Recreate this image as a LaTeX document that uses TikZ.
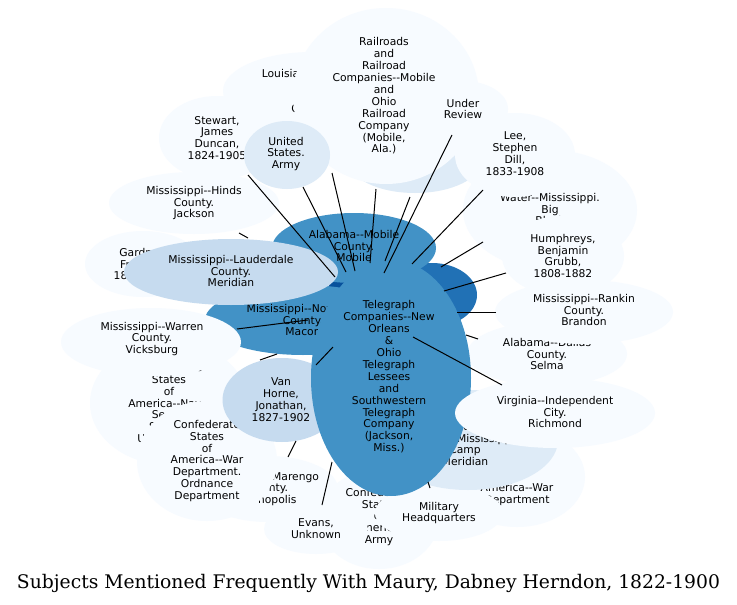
\documentclass[tikz,border=0pt]{standalone}
\usepackage{graphicx}
\usepackage{fontspec}
\setmainfont{DejaVu Sans}[Ligatures=TeXOff]
\newfontfamily\titlefont{DejaVu Serif}
\usetikzlibrary{shapes.geometric}
\definecolor{bA}{HTML}{F7FBFF}
\definecolor{bB}{HTML}{DEEBF7}
\definecolor{bC}{HTML}{C6DBEF}
\definecolor{bE}{HTML}{4292C6}
\definecolor{bF}{HTML}{2171B5}
\definecolor{bG}{HTML}{08519C}
\tikzset{
  blob/.style={ellipse, inner sep=0pt, draw=none},
  lbl/.style={align=center, inner sep=0pt, font=\fontsize{10.75}{11.9}\selectfont},
  edge/.style={draw=black, line width=1pt},
}
\newcommand{\blobat}[6]{\node[blob, fill=#2, minimum width=#5pt, minimum height=#6pt] (#1) at (#3,#4) {};}
\begin{document}
\begin{tikzpicture}[x=1pt,y=-1pt]
\useasboundingbox (0,0) rectangle (737,605);
\fill[white] (0,0) rectangle (737,605);
% hidden dark nodes
\blobat{w}{bG}{343}{283}{30}{18}
\blobat{v}{bF}{432}{295}{90}{64}
% Noxubee
\blobat{nox}{bE}{303}{320}{196}{70}
\node[lbl] (nox-t) at (303,320) {Mississippi--Noxubee\\County.\\Macon};
% Alabama Mobile
\blobat{mob}{bE}{354}{248}{164}{70}
\node[lbl] (mob-t) at (354,246) {Alabama--Mobile\\County.\\Mobile};
% Gardner
\blobat{gar}{bA}{143}{264}{116}{66}
\node[lbl] (gar-t) at (143,264) {Gardner,\\Franklin,\\1823-1873};
% Hinds
\blobat{hin}{bA}{194}{203}{170}{62}
\node[lbl] (hin-t) at (194,203) {Mississippi--Hinds\\County.\\Jackson};
% Lauderdale
\blobat{lau}{bC}{231}{272}{214}{66}
\node[lbl] (lau-t) at (231,271) {Mississippi--Lauderdale\\County.\\Meridian};
% Navy
\blobat{nav}{bA}{169}{403}{158}{124}
\node[lbl] (nav-t) at (169,403) {Confederate\\States\\of\\America--Navy.\\Secret\\Service\\Underwater};
% Warren
\blobat{war}{bA}{151}{342}{180}{68}
\node[lbl] (war-t) at (152,339) {Mississippi--Warren\\County.\\Vicksburg};
% Marengo
\blobat{mar}{bA}{268}{489}{140}{66}
\node[lbl] (mar-t) at (268,489) {Alabama--Marengo\\County.\\Demopolis};
% Ordnance
\blobat{ord}{bA}{207}{461}{140}{120}
\node[lbl] (ord-t) at (207,461) {Confederate\\States\\of\\America--War\\Department.\\Ordnance\\Department};
% Van Horne
\blobat{van}{bC}{282}{400}{119}{84}
\node[lbl] (van-t) at (281,400) {Van\\Horne,\\Jonathan,\\1827-1902};
% Louisiana
\blobat{lou}{bA}{312}{91}{178}{78}
\node[lbl] (lou-t) at (312,91) {Louisiana--Orleans\\Parish.\\New\\Orleans};
% Stewart
\blobat{ste}{bA}{217}{138}{116}{84}
\node[lbl] (ste-t) at (217,138) {Stewart,\\James\\Duncan,\\1824-1905};
% hidden light node
\blobat{u}{bB}{415}{160}{134}{66}
% Railroads
\blobat{rai}{bA}{386}{96}{186}{176}
\node[lbl] (rai-t) at (384,96) {Railroads\\and\\Railroad\\Companies--Mobile\\and\\Ohio\\Railroad\\Company\\(Mobile,\\Ala.)};
% US Army
\blobat{arm}{bB}{287}{155}{86}{68}
\node[lbl] (arm-t) at (286,154) {United\\States.\\Army};
% Under Review
\blobat{und}{bA}{463}{109}{90}{56}
\node[lbl] (und-t) at (463,109) {Under\\Review};
% Water
\blobat{wat}{bA}{550}{210}{174}{120}
\node[lbl] (wat-t) at (550,215) {Water--Mississippi.\\Big\\Black\\River};
% Lee
\blobat{lee}{bA}{515}{155}{120}{84}
\node[lbl] (lee-t) at (515,154) {Lee,\\Stephen\\Dill,\\1833-1908};
% Humphreys
\blobat{hum}{bA}{563}{256}{122}{80}
\node[lbl] (hum-t) at (563,256) {Humphreys,\\Benjamin\\Grubb,\\1808-1882};
% Selma
\blobat{sel}{bA}{547}{354}{160}{64}
\node[lbl] (sel-t) at (547,354) {Alabama--Dallas\\County.\\Selma};
% Rankin
\blobat{ran}{bA}{584}{312}{178}{64}
\node[lbl] (ran-t) at (584,310) {Mississippi--Rankin\\County.\\Brandon};
% War Department
\blobat{wd}{bA}{517}{477}{136}{100}
\node[lbl] (wd-t) at (517,477) {Confederate\\States\\of\\America--War\\Department};
% Confederate States Army
\blobat{csa}{bA}{379}{519}{120}{100}
\node[lbl] (csa-t) at (379,517) {Confederate\\States\\of\\America.\\Army};
% Evans
\blobat{eva}{bA}{316}{529}{104}{50}
\node[lbl] (eva-t) at (316,529) {Evans,\\Unknown};
% Military HQ
\blobat{mhq}{bA}{439}{513}{128}{56}
\node[lbl] (mhq-t) at (439,513) {Military\\Headquarters};
% Camp Meridian
\blobat{cam}{bB}{468}{440}{180}{100}
\node[lbl] (cam-t) at (465,444) {Military\\Camps--Mississippi.\\Camp\\Meridian};
% Center
\blobat{cen}{bE}{391}{378}{160}{236}
\node[lbl] (cen-t) at (389,377) {Telegraph\\Companies--New\\Orleans\\\&\\Ohio\\Telegraph\\Lessees\\and\\Southwestern\\Telegraph\\Company\\(Jackson,\\Miss.)};
% Virginia
\blobat{vir}{bA}{555}{413}{200}{70}
\node[lbl] (vir-t) at (555,412) {Virginia--Independent\\City.\\Richmond};
% edge end points
\coordinate (e1a) at (248,175); \coordinate (e1b) at (335,277);
\coordinate (e2a) at (303,187); \coordinate (e2b) at (346,272);
\coordinate (e3a) at (332,173); \coordinate (e3b) at (355,271);
\coordinate (e4a) at (376,189); \coordinate (e4b) at (370,263);
\coordinate (e5a) at (410,197); \coordinate (e5b) at (385,261);
\coordinate (e6a) at (452,135); \coordinate (e6b) at (384,273);
\coordinate (e7a) at (483,190); \coordinate (e7b) at (412,264);
\coordinate (e8a) at (483,242); \coordinate (e8b) at (441,267);
\coordinate (e9a) at (506,273); \coordinate (e9b) at (444,291);
\coordinate (e10a) at (496,312); \coordinate (e10b) at (457,312);
\coordinate (e11a) at (478,339); \coordinate (e11b) at (466,335);
\coordinate (e12a) at (413,337); \coordinate (e12b) at (502,385);
\coordinate (e13a) at (322,505); \coordinate (e13b) at (332,462);
\coordinate (e14a) at (288,457); \coordinate (e14b) at (296,441);
\coordinate (e15a) at (316,365); \coordinate (e15b) at (333,347);
\coordinate (e16a) at (237,329); \coordinate (e16b) at (308,320);
\coordinate (e17a) at (277,354); \coordinate (e17b) at (260,360);
\coordinate (e18a) at (239,233); \coordinate (e18b) at (248,238);
\coordinate (e19a) at (428,482); \coordinate (e19b) at (430,488);
\foreach \i in {1,...,19} {\draw[edge] (e\i a) -- (e\i b);}
% title
\node[anchor=base, inner sep=0pt, font=\titlefont] (title) at (368.5,588)
  {\resizebox{703pt}{!}{Subjects Mentioned Frequently With Maury, Dabney Herndon, 1822-1900}};
\end{tikzpicture}
\end{document}
